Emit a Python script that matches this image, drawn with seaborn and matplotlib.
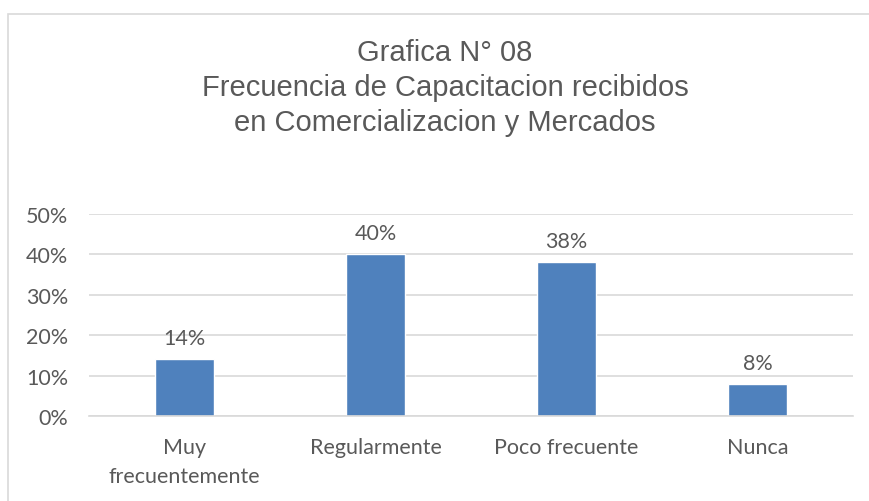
import matplotlib
matplotlib.use("Agg")
import matplotlib.pyplot as plt
from matplotlib.patches import Rectangle
import seaborn as sns
import pandas as pd

# ===== Data =====
categories = ["Muy\nfrecuentemente", "Regularmente", "Poco frecuente", "Nunca"]
values = [0.14, 0.40, 0.38, 0.08]
value_labels = ["14%", "40%", "38%", "8%"]
yticks = [0.0, 0.1, 0.2, 0.3, 0.4, 0.5]
ytick_labels = ["0%", "10%", "20%", "30%", "40%", "50%"]
title = "Grafica N° 08\nFrecuencia de Capacitacion recibidos\nen Comercializacion y Mercados"

bar_color = "#4f81bd"
text_color = "#595959"
grid_color = "#d9d9d9"

sns.set_style("white")
plt.rcParams['font.family'] = ['Lato', 'DejaVu Sans']

df = pd.DataFrame({"categoria": categories, "valor": values})

fig = plt.figure(figsize=(8.69, 5.02), dpi=100)
ax = fig.add_axes([0.1024, 0.1693, 0.8792, 0.4024])

sns.barplot(data=df, x="categoria", y="valor", color=bar_color, width=0.314,
            saturation=1, ax=ax)

ax.set_ylim(0, 0.5)
ax.set_yticks(yticks)
ax.set_yticklabels(ytick_labels)
ax.set_xlabel("")
ax.set_ylabel("")
ax.yaxis.grid(True, color=grid_color, linewidth=1.2)
ax.set_axisbelow(True)
for side in ["top", "right", "left"]:
    ax.spines[side].set_visible(False)
ax.spines["bottom"].set_color(grid_color)
ax.spines["bottom"].set_linewidth(1.2)
ax.tick_params(axis="both", length=0, labelsize=15.5, labelcolor=text_color)
ax.tick_params(axis="y", pad=15)
ax.tick_params(axis="x", pad=15)
for lbl in ax.get_xticklabels():
    lbl.set_linespacing(1.55)

ax.bar_label(ax.containers[0], labels=value_labels, padding=8, fontsize=15.5, color=text_color)

fig.text(0.512, 1 - 88 / 502, title, ha="center", va="center", fontsize=21,
         color=text_color, family=["Liberation Sans", "DejaVu Sans"], linespacing=1.33)

# light border of the chart area
fig.patches.append(Rectangle((8 / 869, -0.02), 1.0, 1 - 15 / 502 + 0.02,
                             transform=fig.transFigure, fill=False,
                             edgecolor=grid_color, linewidth=1.2))

fig.savefig("out.png", dpi=100)
